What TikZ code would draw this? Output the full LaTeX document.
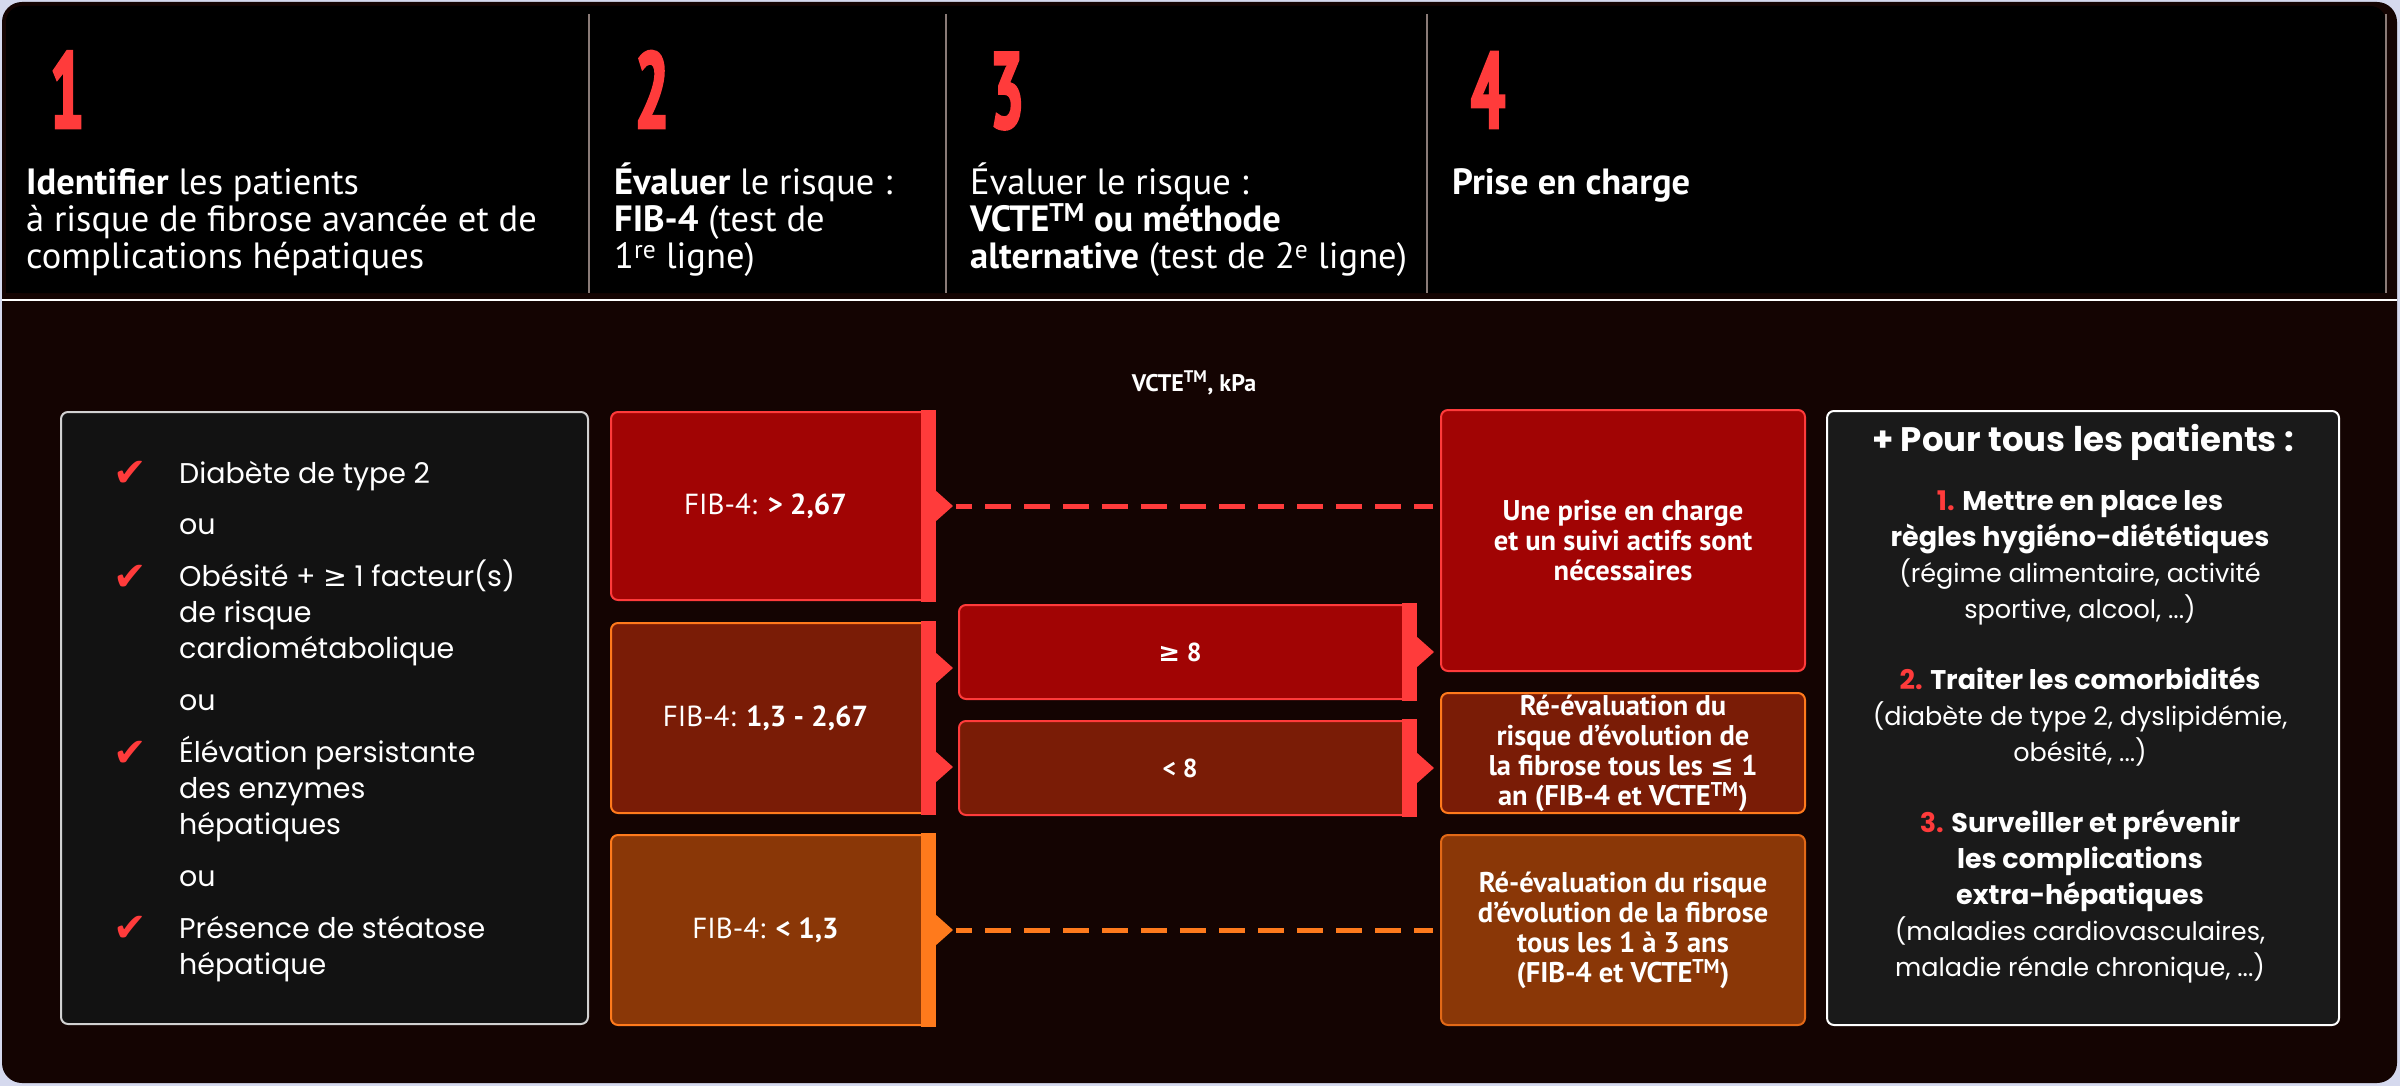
\documentclass[tikz,border=0pt]{standalone}
\usepackage{fontspec}
\setmainfont{PT Sans}
\newfontfamily\wsans{Poppins}
\newfontfamily\symb{DejaVu Sans}
\newfontfamily\chiffres{PT Sans}[FakeStretch=0.55, FakeBold=2.5]
\usetikzlibrary{positioning}

\definecolor{cadre}{HTML}{D5D9EE}
\definecolor{fond}{HTML}{140402}
\definecolor{sep}{HTML}{8A7B77}
\definecolor{rouge}{HTML}{FF3B3B}
\definecolor{orvif}{HTML}{FF7A1C}
\definecolor{rougefonce}{HTML}{A10404}
\definecolor{brunrouge}{HTML}{7A1C06}
\definecolor{brunorange}{HTML}{8A3707}
\definecolor{grisliste}{HTML}{121212}
\definecolor{ardoise}{HTML}{1A1A1A}

% barre de droite et pointe
\newcommand{\barre}[2]{\fill[#2] ([xshift=-14pt,yshift=1pt]#1.north east) rectangle ([xshift=1pt,yshift=-1pt]#1.south east);}
\newcommand{\pointe}[2]{\fill[#2] (#1) -- ++(0,-16) -- ++(18,16) -- ++(-18,16) -- cycle;}
\newcommand{\gras}[1]{{\fontsize{27}{36}\bfseries\selectfont #1}}

\begin{document}
\begin{tikzpicture}[x=1pt, y=-1pt,
	entete/.style={anchor=base west, align=left, inner sep=0pt, text=white, font=\fontsize{36.5}{37}\selectfont},
	chiffre/.style={anchor=base west, inner sep=0pt, text=rouge, font=\chiffres\fontsize{108}{108}\bfseries\selectfont},
	liste/.style={anchor=base west, align=left, inner sep=0pt, text=white, font=\wsans\fontsize{28.5}{35.7}\selectfont},
	coche/.style={anchor=base, inner sep=0pt, text=rouge, font=\symb\fontsize{40}{40}\selectfont},
	boite/.style={rounded corners=7pt, line width=2pt, inner sep=0pt, text=white, align=center},
	niveau/.style={boite, minimum width=323pt, minimum height=190pt, font=\fontsize{29}{34}\selectfont},
	mesure/.style={boite, minimum width=456pt, minimum height=94pt, font=\fontsize{26}{30}\bfseries\selectfont},
	issue/.style={boite, minimum width=364pt, font=\fontsize{28.5}{30}\bfseries\selectfont},
	tiret/.style={line width=5pt, dash pattern=on 26pt off 13pt, dash phase=10pt, shorten <=21pt, shorten >=7pt},
	tous/.style={anchor=base, align=center, inner sep=0pt, text=white, font=\wsans\fontsize{25.5}{36}\selectfont}]

% fond et cadre
	\useasboundingbox (0,0) rectangle (2400,1086);
	\fill[cadre] (0,0) rectangle (2400,1086);
	\fill[fond, rounded corners=20pt] (2,2) rectangle (2397,1083);
	\fill[black, rounded corners=16pt] (6,6) rectangle (2386,293);
	\fill[black] (6,200) rectangle (2386,293);
	\draw[white, line width=2.5pt] (2,300) -- (2397,300);
	\foreach \x in {589, 946, 1427, 2386}
		\draw[sep, line width=1.5pt] (\x,14) -- (\x,293);

% en-tete
	\foreach \n/\x in {1/50, 2/635, 3/990, 4/1471}
		\node[chiffre] (c\n) at (\x,128) {\n};
	\node[entete] (etape1) at (26,268) {\textbf{Identifier} les patients\\à risque de fibrose avancée et de\\complications hépatiques};
	\node[entete] (etape2) at (614,268) {\textbf{Évaluer} le risque :\\\textbf{FIB-4} (test de\\1\textsuperscript{re} ligne)};
	\node[entete] (etape3) at (970,268) {Évaluer le risque :\\\textbf{VCTE\textsuperscript{TM} ou méthode}\\\textbf{alternative} (test de 2\textsuperscript{e} ligne)};
	\node[entete] (etape4) at (1452,194) {\textbf{Prise en charge}};

% criteres
	\node[boite, fill=grisliste, draw=white!82!black, minimum width=527pt, minimum height=612pt] (criteres) at (324.5,718) {};
	\foreach \y [count=\i] in {486, 590, 766, 941}
		\node[coche] (coche\i) at (130,\y) {✔};
	\foreach \y [count=\i] in {534, 710, 886}
		\node[liste] (ou\i) at (179,\y) {ou};
	\node[liste] (crit1) at (179,483) {Diabète de type 2};
	\node[liste] (crit2) at (179,658) {Obésité + {\symb ≥} 1 facteur(s)\\de risque\\cardiométabolique};
	\node[liste] (crit3) at (179,834) {Élévation persistante\\des enzymes\\hépatiques};
	\node[liste] (crit4) at (179,974) {Présence de stéatose\\hépatique};

% FIB-4
	\node[niveau, fill=rougefonce, draw=rouge, minimum height=188pt] (fibA) at (772.5,506) {FIB-4: \textbf{> 2,67}\hspace*{14pt}};
	\node[niveau, fill=brunrouge, draw=orvif] (fibB) at (772.5,718) {FIB-4: \textbf{1,3 - 2,67}\hspace*{14pt}};
	\node[niveau, fill=brunorange, draw=orvif] (fibC) at (772.5,930) {FIB-4: \textbf{< 1,3}\hspace*{14pt}};
	\barre{fibA}{rouge}
	\barre{fibB}{rouge}
	\barre{fibC}{orvif}
	\pointe{fibA.east}{rouge}
	\pointe{[yshift=50pt]fibB.east}{rouge}
	\pointe{[yshift=-49pt]fibB.east}{rouge}
	\pointe{fibC.east}{orvif}

% VCTE
	\node[white, font=\fontsize{24}{28}\bfseries\selectfont] (kpa) at (1194,383) {VCTE\textsuperscript{TM}, kPa};
	\node[mesure, fill=rougefonce, draw=rouge] (haut) at (1187,652) {{\symb ≥} 8\hspace*{14pt}};
	\node[mesure, fill=brunrouge, draw=rouge] (bas) at (1187,768) {< 8\hspace*{14pt}};
	\barre{haut}{rouge}
	\barre{bas}{rouge}
	\pointe{haut.east}{rouge}
	\pointe{bas.east}{rouge}

% prise en charge
	\node[issue, fill=rougefonce, draw=rouge, minimum height=261pt] (resA) at (1623,540.5) {Une prise en charge\\et un suivi actifs sont\\nécessaires};
	\node[issue, fill=brunrouge, draw=orvif, minimum height=120pt] (resB) at (1623,753) {Ré-évaluation du\\risque d'évolution de\\la fibrose tous les {\symb\bfseries ≤} 1\\an (FIB-4 et VCTE\textsuperscript{TM})};
	\node[issue, fill=brunorange, draw=orvif!75!brunorange, minimum height=190pt] (resC) at (1623,930) {Ré-évaluation du risque\\d'évolution de la fibrose\\tous les 1 à 3 ans\\(FIB-4 et VCTE\textsuperscript{TM})};
	\draw[tiret, rouge] (fibA.east) -- (fibA.east -| resA.west);
	\draw[tiret, orvif] (fibC.east) -- (fibC.east -| resC.west);

% pour tous les patients
	\node[boite, fill=ardoise, draw=white, minimum width=512pt, minimum height=614pt] (cadretous) at (2083,718) {};
	\node[tous, font=\wsans\fontsize{34}{36}\bfseries\selectfont] (titre) at (2083,451) {+ Pour tous les patients :};
	\node[tous] (conseils) at (2080,976) {\gras{\textcolor{rouge}{1.} Mettre en place les}\\\gras{règles hygiéno-diététiques}\\(régime alimentaire, activité\\sportive, alcool, ...)\\[35pt]
		\gras{\textcolor{rouge}{2.} Traiter les comorbidités}\\(diabète de type 2, dyslipidémie,\\obésité, ...)\\[35pt]
		\gras{\textcolor{rouge}{3.} Surveiller et prévenir}\\\gras{les complications}\\\gras{extra-hépatiques}\\(maladies cardiovasculaires,\\maladie rénale chronique, ...)};
\end{tikzpicture}
\end{document}
